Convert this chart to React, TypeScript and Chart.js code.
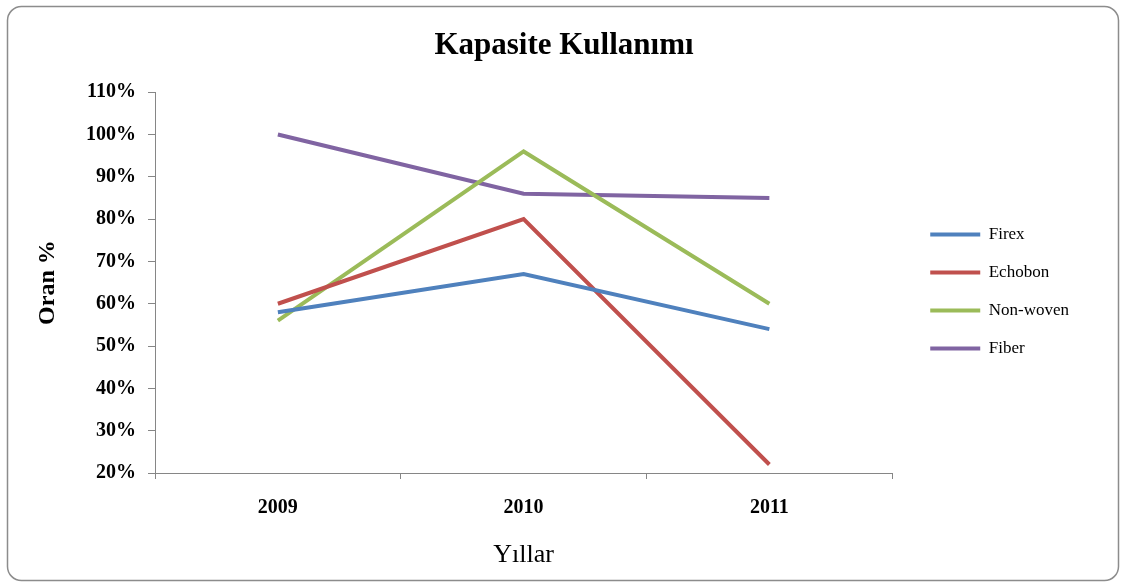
import React, { useEffect, useRef } from "react";
import { Chart, registerables } from "chart.js";

Chart.register(...registerables);

// ---- data ----
const years = ["2009", "2010", "2011"];
const firex = [58, 67, 54];
const echobon = [60, 80, 22];
const nonWoven = [56, 96, 60];
const fiber = [100, 86, 85];

const yMin = 20;
const yMax = 110;
const yStep = 10;

const chartTitle = "Kapasite Kullanımı";
const xTitle = "Yıllar";
const yTitle = "Oran %";

const seriesNames = ["Firex", "Echobon", "Non-woven", "Fiber"];
const seriesColors = ["#4F81BD", "#C0504D", "#9BBB59", "#8064A2"];

const SERIF = "'Liberation Serif', 'Times New Roman', serif";

const framePlugin = {
  id: "frame",
  afterLayout(chart: any) {
    // centre the chart title over the whole canvas, like the original
    const t = chart.titleBlock;
    if (t) {
      t.left = 0;
      t.right = chart.width;
      t.width = chart.width;
    }
  },
  beforeDraw(chart: any) {
    const ctx = chart.ctx;
    ctx.save();
    ctx.fillStyle = "#ffffff";
    ctx.fillRect(0, 0, chart.width, chart.height);
    ctx.beginPath();
    ctx.roundRect(7.5, 6.5, 1111, 574, 14);
    ctx.strokeStyle = "#8c8c8c";
    ctx.lineWidth = 1.5;
    ctx.stroke();
    ctx.restore();
  },
};

export default function App() {
  const ref = useRef<HTMLCanvasElement | null>(null);

  useEffect(() => {
    if (!ref.current) return;
    const values = [firex, echobon, nonWoven, fiber];
    const chart = new Chart(ref.current, {
      type: "line",
      data: {
        labels: years,
        datasets: values.map((v, i) => ({
          label: seriesNames[i],
          data: v,
          borderColor: seriesColors[i],
          backgroundColor: seriesColors[i],
          borderWidth: 4,
          pointRadius: 0,
          pointHoverRadius: 0,
          tension: 0,
          fill: false,
        })),
      },
      options: {
        responsive: false,
        animation: false,
        events: [],
        layout: { padding: { top: 0, right: 49, bottom: 0, left: 0 } },
        plugins: {
          title: {
            display: true,
            text: chartTitle,
            color: "#000",
            font: { family: SERIF, size: 31, weight: "bold" },
            padding: { top: 27, bottom: 28 },
          },
          legend: {
            position: "right",
            align: "center",
            fullSize: false,
            title: {
              display: true,
              text: " ",
              font: { family: SERIF, size: 10 },
              padding: 3,
            },
            labels: {
              usePointStyle: true,
              pointStyle: "line",
              pointStyleWidth: 50,
              boxHeight: 4,
              color: "#000",
              font: { family: SERIF, size: 17 },
              padding: 21,
            },
          },
          tooltip: { enabled: false },
        },
        scales: {
          x: {
            offset: true,
            grid: {
              offset: true,
              drawOnChartArea: false,
              tickLength: 6,
              color: "#868686",
            },
            border: { color: "#868686", width: 1 },
            ticks: {
              color: "#000",
              font: { family: SERIF, size: 20, weight: "bold" },
              padding: 17,
              maxRotation: 0,
            },
            title: {
              display: true,
              text: xTitle,
              color: "#000",
              font: { family: SERIF, size: 26 },
              padding: { top: 0, bottom: 12 },
            },
            afterFit: (s: any) => {
              s.height = 110;
            },
          },
          y: {
            min: yMin,
            max: yMax,
            grid: {
              drawOnChartArea: false,
              tickLength: 7,
              color: "#868686",
            },
            border: { color: "#868686", width: 1 },
            ticks: {
              stepSize: yStep,
              color: "#000",
              font: { family: SERIF, size: 20, weight: "bold" },
              padding: 12,
              callback: (v: any) => v + "%",
            },
            title: {
              display: true,
              text: yTitle,
              color: "#000",
              font: { family: SERIF, size: 24, weight: "bold" },
              padding: { top: 33, bottom: 0 },
            },
            afterFit: (s: any) => {
              s.width = 155;
            },
          },
          gap: {
            position: "right",
            display: true,
            ticks: { display: false },
            grid: { display: false },
            border: { display: false },
            afterFit: (s: any) => {
              s.width = 17;
            },
          },
        },
      } as any,
      plugins: [framePlugin],
    });
    return () => chart.destroy();
  }, []);

  return (
    <div style={{ position: "fixed", left: 0, top: 0, width: 1128, height: 583 }}>
      <canvas ref={ref} width={1128} height={583} style={{ display: "block" }} />
    </div>
  );
}
